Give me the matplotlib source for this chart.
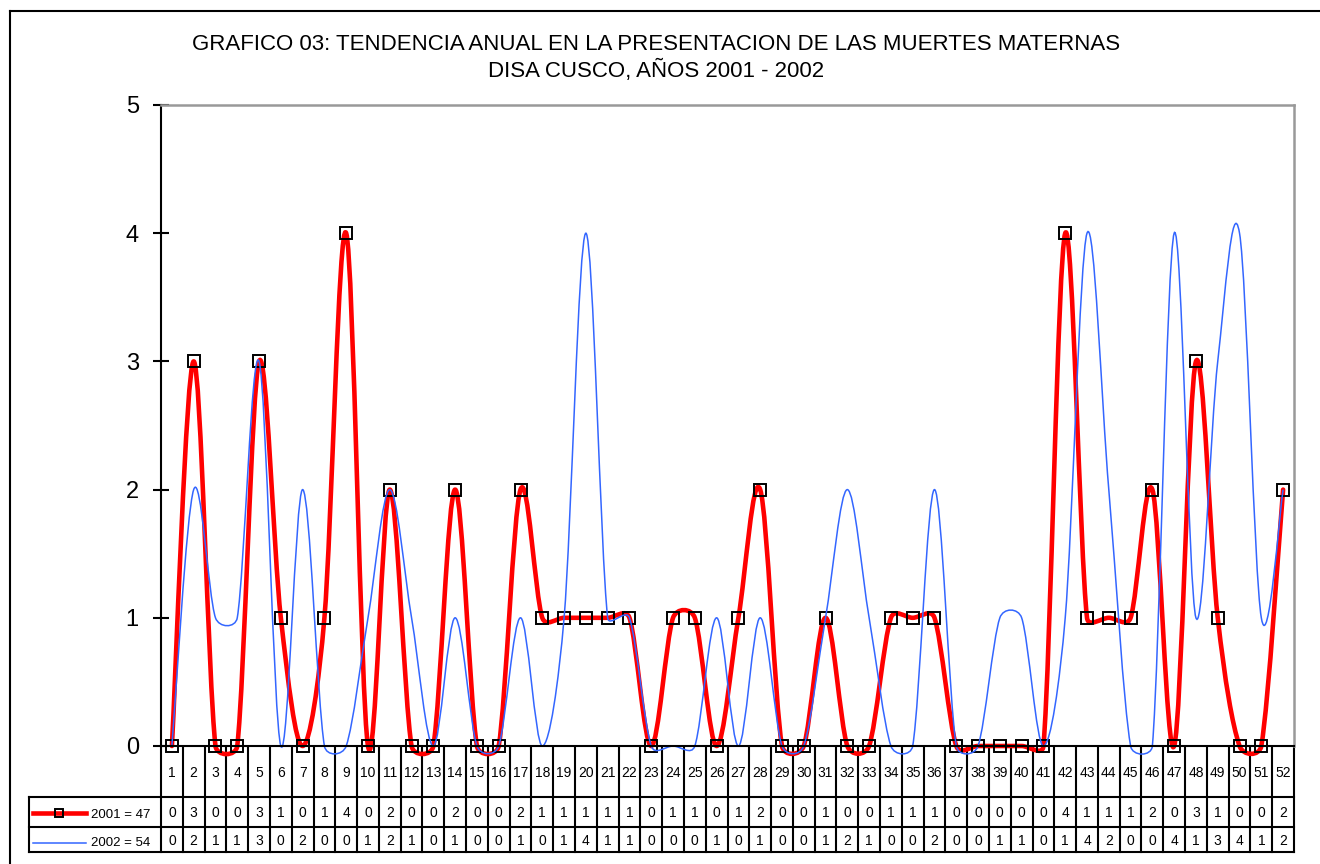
import numpy as np
import matplotlib
matplotlib.use('Agg')
import matplotlib.pyplot as plt
from matplotlib.path import Path
from matplotlib.patches import PathPatch
from matplotlib.transforms import blended_transform_factory

plt.rcParams['font.family'] = ['Liberation Sans', 'DejaVu Sans']

# Datos: muertes maternas por semana epidemiologica
semanas = list(range(1, 53))
muertes_2001 = [0, 3, 0, 0, 3, 1, 0, 1, 4, 0, 2, 0, 0, 2, 0, 0, 2, 1, 1, 1, 1, 1, 0, 1, 1, 0,
                1, 2, 0, 0, 1, 0, 0, 1, 1, 1, 0, 0, 0, 0, 0, 4, 1, 1, 1, 2, 0, 3, 1, 0, 0, 2]
muertes_2002 = [0, 2, 1, 1, 3, 0, 2, 0, 0, 1, 2, 1, 0, 1, 0, 0, 1, 0, 1, 4, 1, 1, 0, 0, 0, 1,
                0, 1, 0, 0, 1, 2, 1, 0, 0, 2, 0, 0, 1, 1, 0, 1, 4, 2, 0, 0, 4, 1, 3, 4, 1, 2]
etiquetas = ['2001 = 47', '2002 = 54']
titulo = ('GRAFICO 03: TENDENCIA ANUAL EN LA PRESENTACION DE LAS MUERTES MATERNAS',
          'DISA CUSCO, AÑOS 2001 - 2002')

ROJO = '#FF0000'
AZUL = '#3366FF'

W, H = 1320, 864
fig = plt.figure(figsize=(W / 100, H / 100), dpi=100)


def caja(x0, y0, x1, y1):
    # caja en pixeles (origen arriba a la izquierda) -> fraccion de figura
    return [x0 / W, 1 - y1 / H, (x1 - x0) / W, (y1 - y0) / H]


AX_L, AX_R, AX_T, AX_B = 161, 1294, 105, 746
ax = fig.add_axes(caja(AX_L, AX_T, AX_R, AX_B))
ax.set_xlim(0.5, len(semanas) + 0.5)
ax.set_ylim(0, 5)

px_x = (AX_R - AX_L) / len(semanas)
px_y = (AX_B - AX_T) / 5


def curva_suave(xs, ys):
    # suavizado tipo Excel: segmentos Bezier calculados en espacio de pantalla
    pts = np.column_stack([np.array(xs, float) * px_x, np.array(ys, float) * px_y])
    n = len(pts)
    verts = [pts[0]]
    codes = [Path.MOVETO]
    f0 = 1 / 6
    for i in range(n - 1):
        p0 = pts[i - 1] if i > 0 else pts[i]
        p1 = pts[i]
        p2 = pts[i + 1]
        p3 = pts[i + 2] if i + 2 < n else pts[i + 1]
        d02 = np.hypot(*(p2 - p0))
        d12 = np.hypot(*(p2 - p1))
        d13 = np.hypot(*(p3 - p1))
        f1 = f0 if d02 / 6 < d12 / 2 else d12 / (2 * d02)
        f2 = f0 if d13 / 6 < d12 / 2 else d12 / (2 * d13)
        verts += [p1 + (p2 - p0) * f1, p2 - (p3 - p1) * f2, p2]
        codes += [Path.CURVE4] * 3
    verts = np.array(verts) / [px_x, px_y]
    return Path(verts, codes)


ax.add_patch(PathPatch(curva_suave(semanas, muertes_2001), fill=False, ec=ROJO, lw=3.3,
                       joinstyle='round', capstyle='round', zorder=3, clip_on=False))
ax.plot(semanas, muertes_2001, ls='none', marker='s', ms=8, mfc='none', mec='black',
        mew=1.4, zorder=4, clip_on=False)
ax.add_patch(PathPatch(curva_suave(semanas, muertes_2002), fill=False, ec=AZUL, lw=1.1,
                       zorder=5, clip_on=False))

for lado in ['left', 'bottom']:
    ax.spines[lado].set_color('black')
    ax.spines[lado].set_linewidth(1.5)
for lado in ['top', 'right']:
    ax.spines[lado].set_color('#999999')
    ax.spines[lado].set_linewidth(1.8)
ax.spines['bottom'].set_zorder(6)
ax.set_xticks([])
ax.set_yticks(range(0, 6))
ax.tick_params(axis='y', direction='inout', length=12, width=1.5, labelsize=17, pad=10)

# capa en pixeles para la tabla de datos, bordes y titulo
capa = fig.add_axes([0, 0, 1, 1], zorder=-1)
capa.set_xlim(0, W)
capa.set_ylim(H, 0)
capa.axis('off')
tr = blended_transform_factory(ax.transData, capa.transData)

# bordes exteriores
capa.plot([10, 10], [11, H], color='black', lw=1.5)
capa.plot([10, W], [11, 11], color='black', lw=1.5)

# titulo
capa.text(656, 45, titulo[0], ha='center', va='center', fontsize=16)
capa.text(656, 71, titulo[1], ha='center', va='center', fontsize=16)

# tabla de datos
Y_FILAS = [AX_B, 797, 827, 852]
for i in range(len(semanas) + 1):
    capa.plot([i + 0.5, i + 0.5], [AX_B, Y_FILAS[-1]], color='black', lw=1.5, transform=tr)
for yf in Y_FILAS[1:]:
    capa.plot([29, AX_R], [yf, yf], color='black', lw=1.5)
capa.plot([29, 29], [Y_FILAS[1], Y_FILAS[-1]], color='black', lw=1.5)

for s, a, b in zip(semanas, muertes_2001, muertes_2002):
    capa.text(s, 773, str(s), ha='center', va='center', fontsize=10, transform=tr)
    capa.text(s, 813, str(a), ha='center', va='center', fontsize=10, transform=tr)
    capa.text(s, 841, str(b), ha='center', va='center', fontsize=10, transform=tr)

# claves de leyenda dentro de la tabla
capa.plot([33, 86], [813, 813], color=ROJO, lw=3.3)
capa.plot([59], [813], ls='none', marker='s', ms=6, mfc='none', mec='black', mew=1.4)
capa.plot([33, 86], [843, 843], color=AZUL, lw=1.1)
capa.text(91, 815, etiquetas[0], ha='left', va='center', fontsize=9.5)
capa.text(91, 843, etiquetas[1], ha='left', va='center', fontsize=9.5)

fig.savefig('out.png', dpi=100)
